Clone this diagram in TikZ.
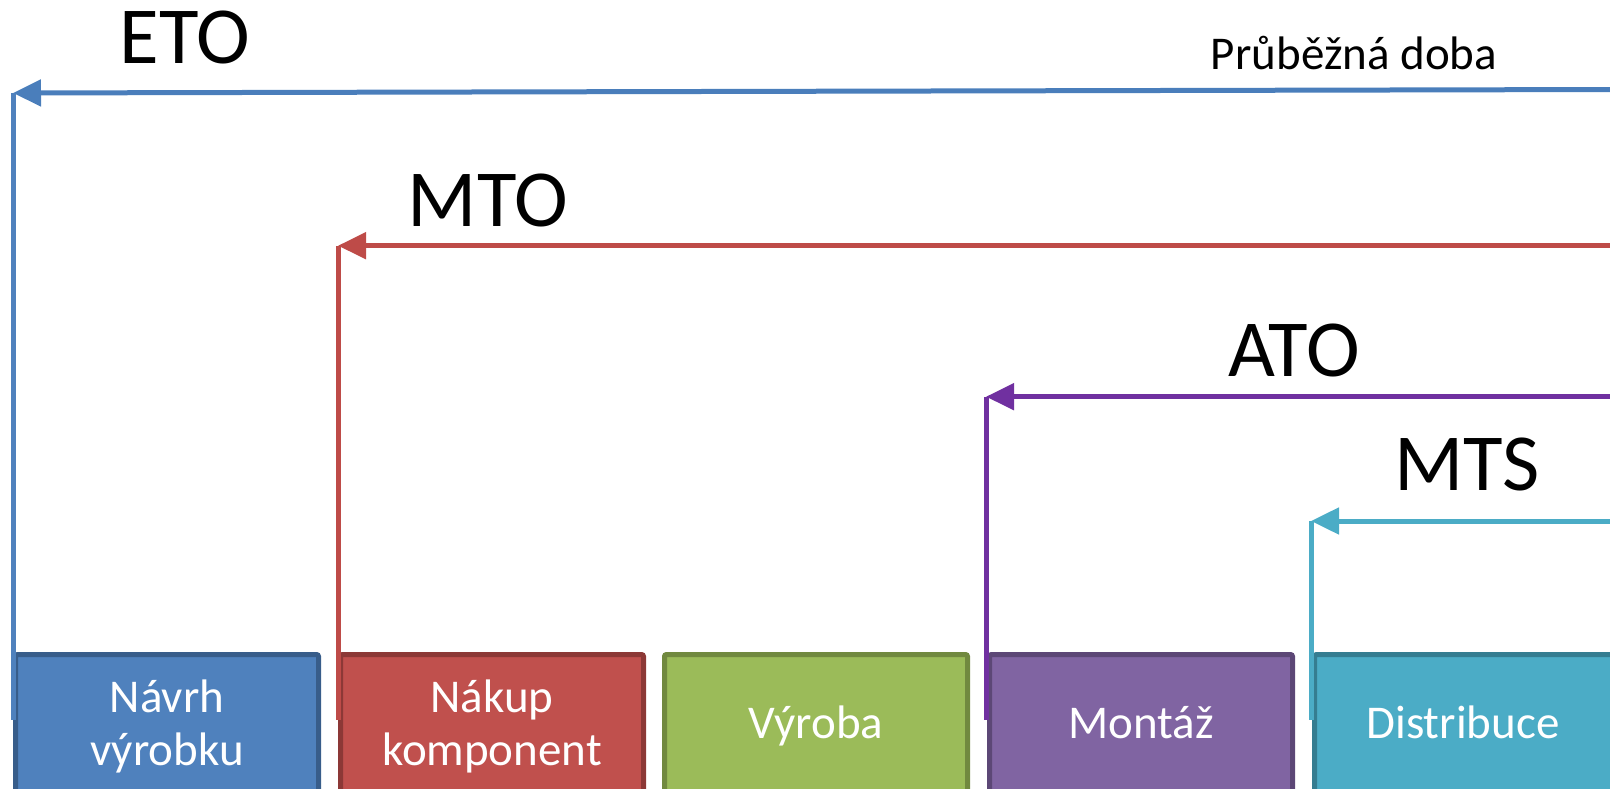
\documentclass[tikz,border=0pt]{standalone}
\usepackage{fontspec}
\setmainfont{Carlito}
\usetikzlibrary{arrows.meta}
\definecolor{bfill}{HTML}{4F81BD}\definecolor{bdraw}{HTML}{385D8A}\definecolor{bline}{HTML}{4A7EBB}
\definecolor{rfill}{HTML}{C0504D}\definecolor{rdraw}{HTML}{8C3836}\definecolor{rline}{HTML}{BE4B48}
\definecolor{gfill}{HTML}{9BBB59}\definecolor{gdraw}{HTML}{71893F}
\definecolor{pfill}{HTML}{8064A2}\definecolor{pdraw}{HTML}{5C4776}\definecolor{pline}{HTML}{7030A0}
\definecolor{cfill}{HTML}{4BACC6}\definecolor{cdraw}{HTML}{357D91}\definecolor{cline}{HTML}{4BACC6}
\begin{document}
\begin{tikzpicture}[x=1pt,y=-1pt,
  stage/.style={draw, line width=5pt, rounded corners=2pt, minimum width=303pt, minimum height=150pt, anchor=north west, inner sep=0pt},
  stagetxt/.style={anchor=base, text=white, inner sep=0pt, font=\fontsize{47pt}{53pt}\selectfont},
  biglabel/.style={anchor=base, inner sep=0pt, font=\fontsize{81pt}{97pt}\selectfont},
  smalllabel/.style={anchor=base, inner sep=0pt, font=\fontsize{47pt}{53pt}\selectfont},
  flow/.style={line width=5pt, -{Triangle[length=28pt,width=26pt]}},
  drop/.style={line width=5pt}]
\useasboundingbox (0,0) rectangle (1610,789);
\clip (0,0) rectangle (1610,789);
% stage boxes
\node[stage, fill=bfill, draw=bdraw] (b1) at (13,652) {};
\node[stage, fill=rfill, draw=rdraw] (b2) at (338,652) {};
\node[stage, fill=gfill, draw=gdraw] (b3) at (662,652) {};
\node[stage, fill=pfill, draw=pdraw] (b4) at (987,652) {};
\node[stage, fill=cfill, draw=cdraw] (b5) at (1312,652) {};
% stage texts
\node[stagetxt] (t1a) at (b1.north |- 0,712) {Návrh};
\node[stagetxt] (t1b) at (b1.north |- 0,765) {výrobku};
\node[stagetxt] (t2a) at (b2.north |- 0,712) {Nákup};
\node[stagetxt] (t2b) at (b2.north |- 0,765) {komponent};
\node[stagetxt] (t3) at (b3.north |- 0,738) {Výroba};
\node[stagetxt] (t4) at (b4.north |- 0,738) {Montáž};
\node[stagetxt] (t5) at (1463,738) {Distribuce};
% corner and end coordinates
\coordinate (etoR) at (1620,89.5);
\coordinate (etoC) at (13,93);
\coordinate (etoE) at (13,720);
\coordinate (mtoR) at (1620,245.7);
\coordinate (mtoC) at (338,245.7);
\coordinate (mtoE) at (338,720);
\coordinate (atoR) at (1620,396.7);
\coordinate (atoC) at (986,396.7);
\coordinate (atoE) at (986,720);
\coordinate (mtsR) at (1620,521);
\coordinate (mtsC) at (1311,521);
\coordinate (mtsE) at (1311,720);
% connectors
\draw[flow, bline] (etoR) -- (etoC);
\draw[drop, bfill] (etoC) -- (etoE);
\draw[flow, rline] (mtoR) -- (mtoC);
\draw[drop, rline] (mtoC) -- (mtoE);
\draw[flow, pline] (atoR) -- (atoC);
\draw[drop, pline] (atoC) -- (atoE);
\draw[flow, cline] (mtsR) -- (mtsC);
\draw[drop, cline] (mtsC) -- (mtsE);
% labels
\node[biglabel] (eto) at (185,64) {ETO};
\node[smalllabel] (doba) at (1354,70) {Průběžná doba};
\node[biglabel] (mto) at (488,226) {MTO};
\node[biglabel] (ato) at (1294,376) {ATO};
\node[biglabel] (mts) at (1467,490) {MTS};
\end{tikzpicture}
\end{document}
